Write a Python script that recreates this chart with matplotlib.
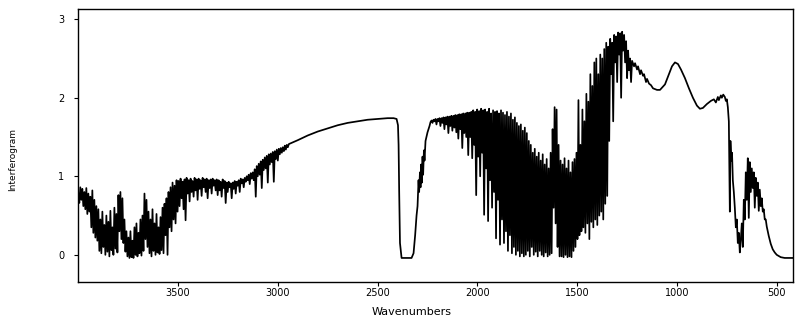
import numpy as np
import matplotlib
matplotlib.use("Agg")
import matplotlib.pyplot as plt

# --- spectrum ---
# dense O-H / C-H region 4000 -> 2950 cm-1: spike tops and bottoms, one pair per 10 cm-1
oh_range = (4000, 2950)
oh_tops = [0.78, 0.86, 0.84, 0.80, 0.85, 0.78, 0.74, 0.82, 0.70, 0.62,
           0.58, 0.45, 0.55, 0.38, 0.50, 0.42, 0.56, 0.35, 0.60, 0.52,
           0.76, 0.80, 0.72, 0.45, 0.30,
           0.22, 0.30, 0.18, 0.35, 0.40, 0.28, 0.45, 0.50,
           0.78, 0.70,
           0.55, 0.45, 0.58, 0.40, 0.52, 0.35, 0.48, 0.60,
           0.65, 0.72, 0.80, 0.86, 0.92, 0.88, 0.95,
           0.94, 0.97, 0.93, 0.96, 0.98, 0.95, 0.97, 0.94, 0.98, 0.96,
           0.97, 0.95, 0.98, 0.96, 0.97, 0.95, 0.96, 0.97, 0.95, 0.96,
           0.95, 0.93, 0.96, 0.94, 0.92, 0.93, 0.91, 0.92, 0.94, 0.93,
           0.95, 0.97, 0.96, 0.98, 1.00, 1.02, 1.04,
           1.05, 1.09, 1.13, 1.16, 1.19, 1.21, 1.24, 1.26, 1.28, 1.29,
           1.31, 1.32, 1.34, 1.35, 1.36, 1.37, 1.39, 1.40]
oh_bottoms = [0.66, 0.70, 0.62, 0.58, 0.52, 0.55, 0.35, 0.28, 0.22, 0.18,
              0.05, 0.02, 0.10, 0.00, 0.04, -0.02, 0.06, 0.00, 0.08, 0.03,
              0.30, 0.20, 0.15, 0.04, -0.02,
              -0.04, -0.03, -0.04, 0.00, -0.02, 0.02, -0.01, 0.05,
              0.20, 0.10,
              0.02, -0.02, 0.05, 0.00, 0.03, 0.01, 0.06, 0.02,
              0.25, 0.00, 0.35, 0.30, 0.45, 0.40, 0.55,
              0.62, 0.72, 0.58, 0.44, 0.78, 0.68, 0.80, 0.74, 0.82, 0.70,
              0.84, 0.75, 0.86, 0.80, 0.72, 0.85, 0.78, 0.88, 0.82, 0.76,
              0.82, 0.74, 0.85, 0.66, 0.80, 0.86, 0.72, 0.84, 0.78, 0.88,
              0.80, 0.91, 0.86, 0.93, 0.95, 0.90, 0.97,
              0.95, 0.74, 1.00, 1.02, 0.85, 1.08, 1.10, 0.92, 1.15, 1.18,
              0.93, 1.22, 1.20, 1.28, 1.30, 1.32, 1.34, 1.37]

# smooth rise and the CO2 cut-out
co2_wn = [2945, 2900, 2850, 2800, 2750, 2700, 2650, 2600, 2550, 2500, 2450, 2420,
          2405, 2398, 2395, 2392, 2388, 2380, 2330, 2320, 2312, 2305, 2300,
          2295, 2292, 2288, 2285, 2282, 2278, 2275, 2272, 2268, 2265, 2260,
          2250, 2240, 2235]
co2_val = [1.41, 1.46, 1.52, 1.57, 1.61, 1.65, 1.68, 1.70, 1.72, 1.73, 1.74, 1.74,
           1.73, 1.65, 1.40, 0.80, 0.15, -0.04, -0.04, 0.02, 0.25, 0.50, 0.62,
           0.95, 0.80, 1.05, 0.86, 1.15, 0.92, 1.25, 1.02, 1.33, 1.20, 1.45,
           1.56, 1.64, 1.69]

# dense water region 2230 -> 1230 cm-1
h2o_range = (2230, 1230)
h2o_tops = [1.71, 1.72, 1.73, 1.73, 1.74, 1.74, 1.75, 1.75, 1.76, 1.76, 1.77,
            1.77, 1.78, 1.78, 1.79, 1.79, 1.80, 1.80, 1.81, 1.81, 1.82,
            1.84, 1.82, 1.85, 1.83, 1.86, 1.84, 1.85, 1.82, 1.86, 1.80, 1.84,
            1.82, 1.83, 1.80, 1.84, 1.81, 1.78, 1.82, 1.76, 1.80, 1.72, 1.75,
            1.68, 1.64, 1.66, 1.58, 1.62,
            1.55, 1.45, 1.40, 1.30, 1.35, 1.25, 1.30, 1.20, 1.28, 1.15, 1.22,
            1.10, 1.30,
            1.60, 1.88, 1.85, 1.40,
            1.20, 1.15, 1.23, 1.10, 1.20, 1.05, 1.18, 1.22, 1.30,
            1.97, 1.40, 1.85, 1.70, 2.05, 1.95, 2.30, 2.15, 2.45, 2.50, 2.30,
            2.55, 2.50, 2.62, 2.70,
            2.65, 2.75, 2.70, 2.80, 2.78, 2.83, 2.82, 2.84,
            2.80, 2.72, 2.60, 2.50]
h2o_bottoms = [1.68, 1.70, 1.66, 1.70, 1.64, 1.68, 1.60, 1.66, 1.55, 1.64, 1.58,
               1.62, 1.56, 1.48, 1.60, 1.36, 1.55, 1.50, 1.27, 1.50, 1.23,
               1.40, 0.76, 1.25, 1.00, 1.30, 0.51, 1.10, 0.43, 0.95, 0.60, 0.80,
               0.21, 0.70, 0.13, 0.45, 0.15, 0.30, 0.05, 0.25, 0.02, 0.10, 0.00,
               0.05, -0.02, 0.02, -0.02, 0.00,
               0.05, -0.02, 0.10, 0.00, 0.04, -0.02, 0.05, 0.00, -0.02, 0.03,
               -0.02, 0.00, 0.02,
               0.60, 0.40, 0.10, -0.02,
               -0.02, -0.03, 0.00, -0.03, -0.02, -0.03, 0.05, 0.10, 0.20,
               0.25, 0.30, 0.35, 0.28, 0.40, 0.20, 0.42, 0.35, 0.45, 0.38, 0.50,
               0.55, 0.45, 0.65, 0.75,
               1.45, 2.30, 1.70, 2.45, 2.20, 2.55, 2.00, 2.60,
               2.45, 2.25, 2.35, 2.20]

# fingerprint region 1225 -> 760 cm-1
fp_wn = [1225, 1215, 1210, 1200, 1195, 1185, 1180, 1170, 1165, 1155, 1150, 1140,
         1130, 1120, 1100, 1085, 1060, 1040, 1025, 1010, 995, 980, 960, 940,
         920, 900, 885, 870, 850, 830, 815, 805, 795, 790, 780, 775, 768, 760]
fp_val = [2.47, 2.40, 2.44, 2.36, 2.40, 2.30, 2.35, 2.28, 2.30, 2.20, 2.24, 2.18,
          2.16, 2.12, 2.10, 2.10, 2.17, 2.30, 2.40, 2.45, 2.43, 2.36, 2.25, 2.12,
          2.00, 1.90, 1.86, 1.87, 1.92, 1.96, 1.98, 1.94, 2.01, 1.97, 2.03, 2.00,
          2.04, 2.01]

# low-frequency cut-off 755 -> 420 cm-1
lf_wn = [755, 750, 745, 740, 735, 732, 728, 724, 720, 715, 710, 705, 700, 695,
         690, 685, 680, 675, 670, 665, 660, 655, 650, 645, 640, 635, 630, 625,
         620, 615, 610, 605, 600, 595, 590, 585, 580, 575, 570, 565, 560, 555,
         550, 545, 540, 530, 520, 510, 500, 480, 460, 440, 420]
lf_val = [1.96, 1.98, 1.88, 1.70, 0.55, 1.45, 1.20, 1.30, 0.95, 0.80, 0.60, 0.35,
          0.45, 0.15, 0.28, 0.03, 0.20, 0.40, 0.10, 0.70, 0.45, 1.05, 0.70, 1.23,
          0.47, 1.18, 0.80, 1.10, 0.85, 1.05, 0.60, 0.98, 0.75, 0.92, 0.56, 0.83,
          0.62, 0.72, 0.55, 0.58, 0.45, 0.45, 0.36, 0.30, 0.24, 0.14, 0.07, 0.03,
          0.00, -0.03, -0.04, -0.04, -0.04]

x_ticks = [3500, 3000, 2500, 2000, 1500, 1000, 500]
y_ticks = [0, 1, 2, 3]


def dense(rng, tops, bottoms):
    vals = np.column_stack([tops, bottoms]).ravel()
    return np.linspace(rng[0], rng[1], len(vals)), vals


wn_parts, val_parts = [], []
for w, v in [dense(oh_range, oh_tops, oh_bottoms), (co2_wn, co2_val),
             dense(h2o_range, h2o_tops, h2o_bottoms), (fp_wn, fp_val),
             (lf_wn, lf_val)]:
    wn_parts.append(np.asarray(w, dtype=float))
    val_parts.append(np.asarray(v, dtype=float))
wn = np.concatenate(wn_parts)
val = np.concatenate(val_parts)

fig = plt.figure(figsize=(7.95, 3.23), dpi=100)
ax = fig.add_axes([0.0985, 0.126, 0.8986, 0.8461])
ax.plot(wn, val, color="black", linewidth=1.25)

ax.set_xlim(4000, 420)
ax.set_ylim(-0.35, 3.13)
ax.set_xticks(x_ticks)
ax.set_yticks(y_ticks)
ax.tick_params(axis="x", direction="out", length=3, width=0.8, pad=1, labelsize=7)
ax.tick_params(axis="y", direction="out", length=3, width=0.8, pad=7, labelsize=7)
for s in ax.spines.values():
    s.set_linewidth(1.0)

fig.text(411.7 / 795, 1 - 312 / 323, "Wavenumbers", ha="center", va="center",
         fontsize=8)
fig.text(13 / 795, 1 - 160 / 323, "Interferogram", rotation=90, ha="center",
         va="center", fontsize=6.5, family=["Liberation Sans Narrow", "DejaVu Sans"])

fig.savefig("out.png", dpi=100)
